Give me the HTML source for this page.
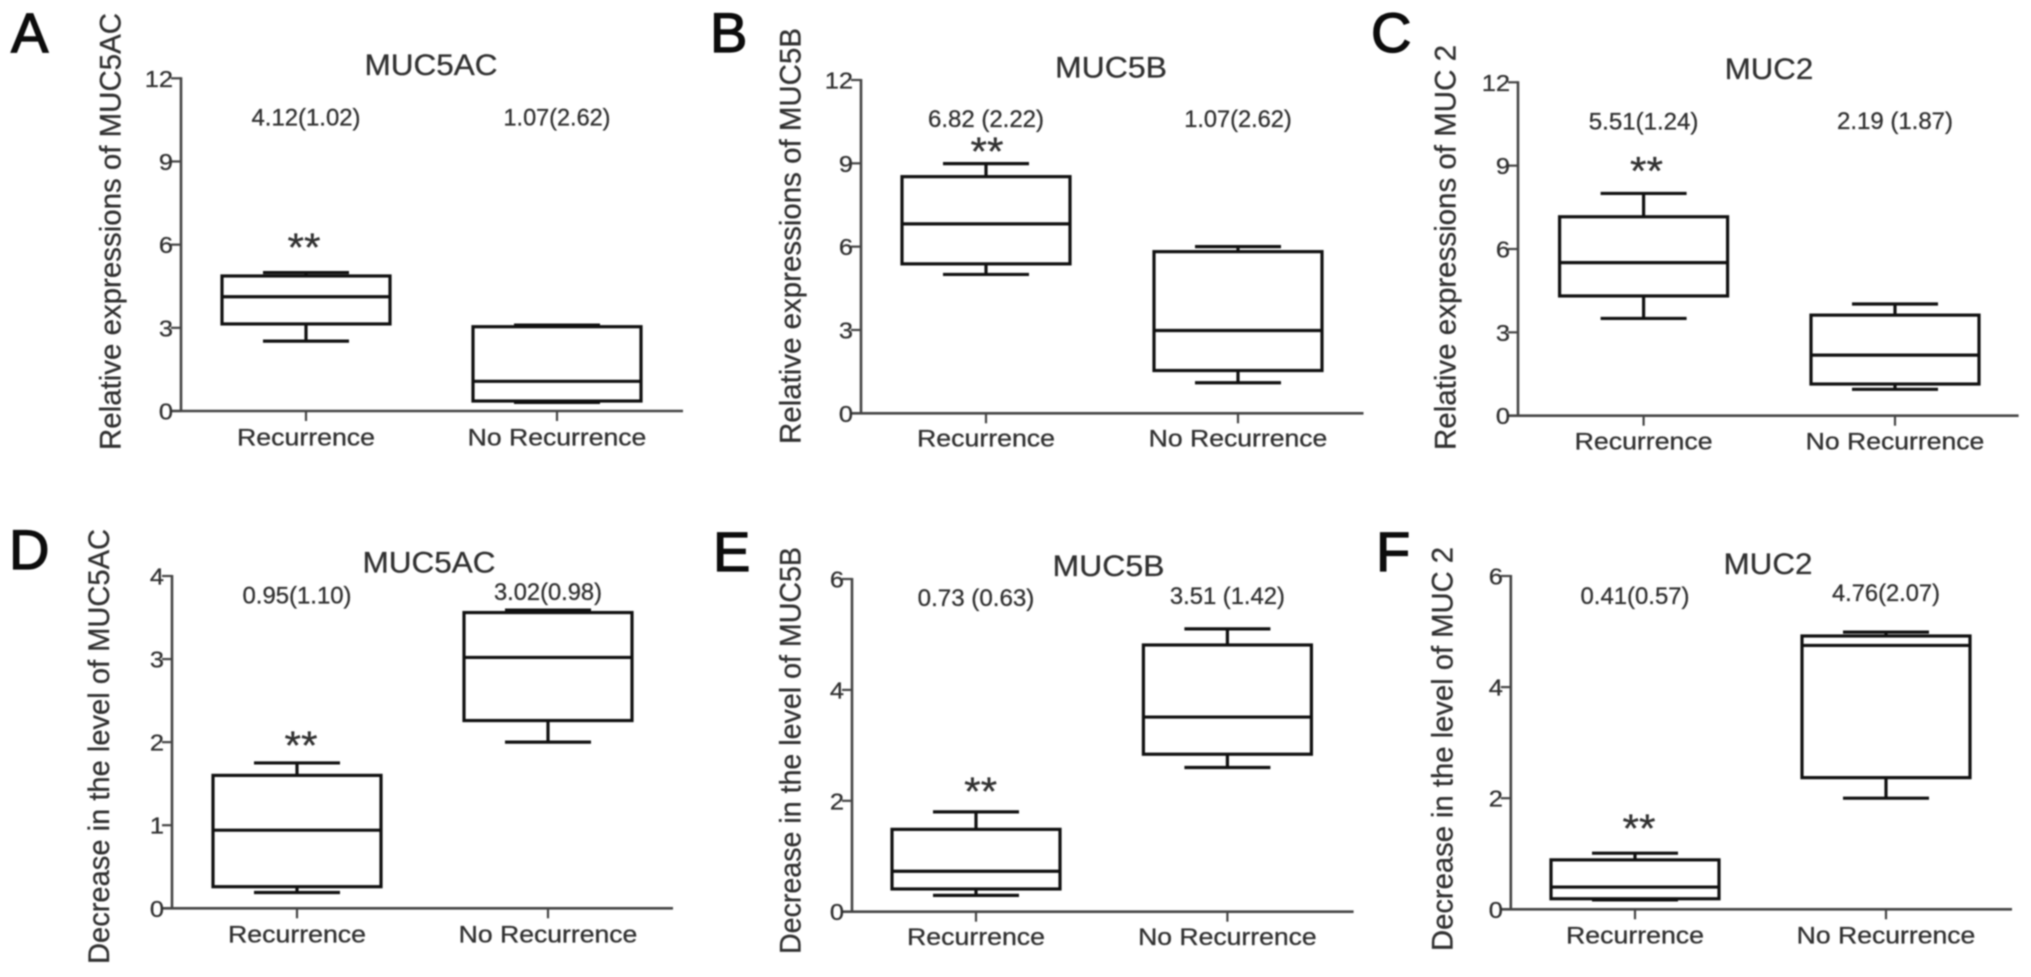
<!DOCTYPE html>
<html lang="en">
<head>
<meta charset="utf-8">
<title>MUC expression box plots</title>
<style>
html,body{margin:0;padding:0;background:#fff;width:2031px;height:977px;overflow:hidden}
#figure{display:block;filter:blur(.7px)}
text{font-family:"Liberation Sans",Arial,sans-serif;fill:#303030;stroke:#303030;stroke-width:.3px}
</style>
</head>
<body>
<svg id="figure" xmlns="http://www.w3.org/2000/svg" width="2031" height="977" viewBox="0 0 2031 977"></svg>
<script>
// Chart data. Each series: [min, q1, median, q3, max]
const categories = ['Recurrence', 'No Recurrence'];
const panelLetters = ['A', 'B', 'C', 'D', 'E', 'F'];
const panelTitles = ['MUC5AC', 'MUC5B', 'MUC2', 'MUC5AC', 'MUC5B', 'MUC2'];
const yAxisTitles = [
  'Relative expressions of MUC5AC',
  'Relative expressions of MUC5B',
  'Relative expressions of MUC 2',
  'Decrease in the level of MUC5AC',
  'Decrease in the level of MUC5B',
  'Decrease in the level of MUC 2'
];
const ticksA = [0, 3, 6, 9, 12];
const ticksB = [0, 3, 6, 9, 12];
const ticksC = [0, 3, 6, 9, 12];
const ticksD = [0, 1, 2, 3, 4];
const ticksE = [0, 2, 4, 6];
const ticksF = [0, 2, 4, 6];
const recurrenceA = [2.52, 3.14, 4.12, 4.87, 4.99];
const noRecurrenceA = [0.31, 0.36, 1.07, 3.04, 3.1];
const recurrenceB = [5.0, 5.38, 6.82, 8.52, 8.99];
const noRecurrenceB = [1.10, 1.54, 2.98, 5.82, 6.0];
const recurrenceC = [3.5, 4.31, 5.51, 7.16, 8.0];
const noRecurrenceC = [0.95, 1.14, 2.18, 3.62, 4.02];
const recurrenceD = [0.19, 0.26, 0.94, 1.60, 1.75];
const noRecurrenceD = [2.0, 2.26, 3.02, 3.56, 3.59];
const recurrenceE = [0.295, 0.41, 0.73, 1.485, 1.80];
const noRecurrenceE = [2.60, 2.84, 3.51, 4.81, 5.10];
const recurrenceF = [0.17, 0.19, 0.40, 0.89, 1.01];
const noRecurrenceF = [2.0, 2.37, 4.75, 4.92, 4.99];
const summaryRecurrence = ['4.12(1.02)', '6.82 (2.22)', '5.51(1.24)', '0.95(1.10)', '0.73 (0.63)', '0.41(0.57)'];
const summaryNoRecurrence = ['1.07(2.62)', '1.07(2.62)', '2.19 (1.87)', '3.02(0.98)', '3.51 (1.42)', '4.76(2.07)'];
const significanceMarks = ['**', '**', '**', '**', '**', '**'];

const panelTicks = [ticksA, ticksB, ticksC, ticksD, ticksE, ticksF];
const panelSeries = [
  [recurrenceA, noRecurrenceA],
  [recurrenceB, noRecurrenceB],
  [recurrenceC, noRecurrenceC],
  [recurrenceD, noRecurrenceD],
  [recurrenceE, noRecurrenceE],
  [recurrenceF, noRecurrenceF]
];

// Page geometry for each panel (plot frame and annotation placement)
const frames = [
  {ax:181, top:78.3, bottom:411,  end:683,  c0:306,   c1:557,   letterX:11,  letterY:52,  titleX:431,  titleY:65,  titleW:133, sumY0:117, sumY1:117, sumW0:109, sumW1:107, starX:304, starY:242, catY:437, yTitleX:110, yTitleY:231.5, yTitleLen:437},
  {ax:861, top:80,   bottom:413.3,end:1363.5,c0:986,  c1:1238,  letterX:710, letterY:52,  titleX:1111, titleY:67.7,titleW:112, sumY0:118.5, sumY1:118.5, sumW0:116, sumW1:107.6, starX:987, starY:146, catY:438, yTitleX:790, yTitleY:236, yTitleLen:416},
  {ax:1518,top:82.3, bottom:415.7,end:2018.6,c0:1643.6,c1:1895, letterX:1371,letterY:52,  titleX:1769, titleY:69,  titleW:88.4,sumY0:121,sumY1:120.5,sumW0:109.6,sumW1:116, starX:1646.5,starY:165.7,catY:441, yTitleX:1445,yTitleY:247.5, yTitleLen:405},
  {ax:172, top:576,  bottom:908.3,end:673,  c0:297,   c1:548,   letterX:9,   letterY:569, titleX:429,  titleY:562.7,titleW:133,sumY0:595,sumY1:591.5,sumW0:109, sumW1:108, starX:301, starY:740, catY:934, yTitleX:98.7,yTitleY:746.5, yTitleLen:435},
  {ax:852, top:579,  bottom:911.7,end:1353.6,c0:976,  c1:1227.4,letterX:713, letterY:571, titleX:1108.5,titleY:566,titleW:112, sumY0:597.5, sumY1:595.5, sumW0:116.6,sumW1:115, starX:980.6,starY:786, catY:936.7,yTitleX:790, yTitleY:750.5, yTitleLen:407},
  {ax:1510.8,top:576,bottom:909.3,end:2012, c0:1635,  c1:1886,  letterX:1376,letterY:571, titleX:1768, titleY:564, titleW:89,  sumY0:595.5, sumY1:592.5, sumW0:109, sumW1:108, starX:1639, starY:823, catY:935, yTitleX:1442,yTitleY:749, yTitleLen:404}
];
const BOX_HALF = 84;
const CAP_HALF = 43;
const NS = 'http://www.w3.org/2000/svg';
const root = document.getElementById('figure');

function makeGroup(parent, name) {
  const g = document.createElementNS(NS, 'g');
  
  
  parent.appendChild(g);
  return g;
}
function makeLine(parent, name, x1, y1, x2, y2, stroke, width) {
  const el = document.createElementNS(NS, 'line');
  
  
  el.setAttribute('x1', x1);
  el.setAttribute('y1', y1);
  el.setAttribute('x2', x2);
  el.setAttribute('y2', y2);
  el.setAttribute('stroke', stroke);
  el.setAttribute('stroke-width', width);
  parent.appendChild(el);
  return el;
}
function makeText(parent, name, content, x, y, size, anchor, fitWidth, transform) {
  const el = document.createElementNS(NS, 'text');
  
  
  el.setAttribute('x', x);
  el.setAttribute('y', y);
  el.setAttribute('font-size', size);
  el.setAttribute('text-anchor', anchor);
  if (fitWidth) {
    el.setAttribute('textLength', fitWidth);
    el.setAttribute('lengthAdjust', 'spacingAndGlyphs');
  }
  if (transform) {
    el.setAttribute('transform', transform);
  }
  el.textContent = content;
  parent.appendChild(el);
  return el;
}

panelSeries.forEach(function (series, p) {
  const f = frames[p];
  const ticks = panelTicks[p];
  const yMax = ticks[ticks.length - 1];
  const yScale = function (v) { return f.bottom - (v / yMax) * (f.bottom - f.top); };
  const xScale = function (i) { return f.c0 + i * (f.c1 - f.c0); };
  const id = panelLetters[p].toLowerCase();
  const panel = makeGroup(root, 'panel-' + id);

  const letter = makeText(panel, 'panel-label-' + id, panelLetters[p], f.letterX, f.letterY, 56, 'start');
  letter.setAttribute('style', 'fill:#0c0c0c;stroke:#0c0c0c;stroke-width:1.3px');
  makeText(panel, 'chart-title-' + id, panelTitles[p], f.titleX, f.titleY + 10, 29.5, 'middle', f.titleW);

  const axisColor = '#444';
  makeLine(panel, 'y-axis-' + id, f.ax, f.top - 1, f.ax, f.bottom + 1, axisColor, 2.6);
  makeLine(panel, 'x-axis-' + id, f.ax - 10, f.bottom, f.end, f.bottom, axisColor, 2.6);
  makeText(panel, 'y-axis-title-' + id, yAxisTitles[p], 0, 0, 30, 'middle', f.yTitleLen,
    'translate(' + (f.yTitleX + 10.5) + ',' + f.yTitleY + ') rotate(-90)');

  ticks.forEach(function (t) {
    const y = yScale(t);
    makeLine(panel, 'y-tick-' + id + '-' + t, f.ax - 10, y, f.ax, y, axisColor, 2.2);
    makeText(panel, 'y-tick-label-' + id + '-' + t, String(t), 0, 0, 23.5, 'end', null,
      'translate(' + (f.ax - 8) + ',' + (y + 8.5) + ') scale(1.08,1)');
  });

  categories.forEach(function (cat, i) {
    const cx = xScale(i);
    const s = series[i];
    const key = id + '-' + (i === 0 ? 'recurrence' : 'no-recurrence');
    makeLine(panel, 'x-tick-' + key, cx, f.bottom, cx, f.bottom + 10, axisColor, 2.2);
    makeText(panel, 'x-label-' + key, cat, cx, f.catY + 8.5, 24.5, 'middle', i === 0 ? 138 : 178.6);

    const box = makeGroup(panel, 'box-' + key);
    const stroke = '#101010';
    const w = 3.2;
    makeLine(box, 'whisker-low-' + key, cx, yScale(s[0]), cx, yScale(s[1]), stroke, w);
    makeLine(box, 'whisker-high-' + key, cx, yScale(s[3]), cx, yScale(s[4]), stroke, w);
    makeLine(box, 'cap-low-' + key, cx - CAP_HALF, yScale(s[0]), cx + CAP_HALF, yScale(s[0]), stroke, w);
    makeLine(box, 'cap-high-' + key, cx - CAP_HALF, yScale(s[4]), cx + CAP_HALF, yScale(s[4]), stroke, w);
    const rect = document.createElementNS(NS, 'rect');
    
    
    rect.setAttribute('x', cx - BOX_HALF);
    rect.setAttribute('y', yScale(s[3]));
    rect.setAttribute('width', BOX_HALF * 2);
    rect.setAttribute('height', yScale(s[1]) - yScale(s[3]));
    rect.setAttribute('fill', 'none');
    rect.setAttribute('stroke', stroke);
    rect.setAttribute('stroke-width', w);
    box.appendChild(rect);
    makeLine(box, 'median-' + key, cx - BOX_HALF, yScale(s[2]), cx + BOX_HALF, yScale(s[2]), stroke, w);
  });

  makeText(panel, 'summary-recurrence-' + id, summaryRecurrence[p], xScale(0), f.sumY0 + 8.5, 24, 'middle', f.sumW0);
  makeText(panel, 'summary-no-recurrence-' + id, summaryNoRecurrence[p], xScale(1), f.sumY1 + 8.5, 24, 'middle', f.sumW1);
  makeText(panel, 'significance-' + id, significanceMarks[p], f.starX, f.starY + 19, 40, 'middle', 33);
});
</script>
</body>
</html>
